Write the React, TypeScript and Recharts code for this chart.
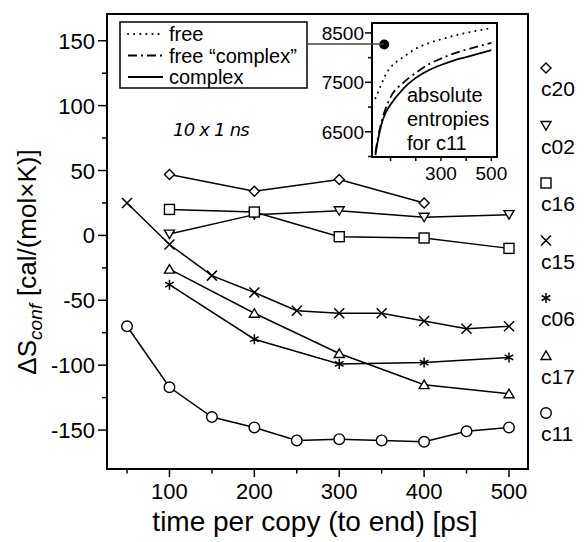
import React from 'react';
import { ComposedChart, Line, XAxis, YAxis, ReferenceArea, ReferenceDot } from 'recharts';

const FONT = '"Liberation Sans", Arial, Helvetica, sans-serif';

// main panel: time per copy [ps] vs ΔS_conf [cal/(mol×K)]
const c20X = [100, 200, 300, 400];
const c20Y = [47, 34, 43, 25];
const c02X = [100, 200, 300, 400, 500];
const c02Y = [1, 16, 19, 14, 16];
const c16X = [100, 200, 300, 400, 500];
const c16Y = [20, 18, -1, -2, -10];
const c15X = [50, 100, 150, 200, 250, 300, 350, 400, 450, 500];
const c15Y = [25, -7, -31, -44, -58, -60, -60, -66, -72, -70];
const c06X = [100, 200, 300, 400, 500];
const c06Y = [-38, -80, -99, -98, -94];
const c17X = [100, 200, 300, 400, 500];
const c17Y = [-26, -60, -91, -115, -122];
const c11X = [50, 100, 150, 200, 250, 300, 350, 400, 450, 500];
const c11Y = [-70, -117, -140, -148, -158, -157, -158, -159, -151, -148];

const xTicks = [50, 100, 150, 200, 250, 300, 350, 400, 450, 500];
const yTicks = [-150, -125, -100, -75, -50, -25, 0, 25, 50, 75, 100, 125, 150];
const X_DOMAIN: [number, number] = [26.4, 522.4];
const Y_DOMAIN: [number, number] = [-180, 170.6];

// inset: absolute entropies for c11
const insetX = [40, 50, 65, 80, 100, 150, 200, 250, 300, 350, 400, 450, 500];
const freeS = [7180, 7300, 7480, 7650, 7800, 8010, 8180, 8290, 8370, 8440, 8500, 8550, 8600];
const freeComplexS = [6080, 6380, 6720, 6960, 7200, 7490, 7690, 7860, 7980, 8080, 8160, 8230, 8300];
const complexS = [6030, 6330, 6670, 6880, 7050, 7370, 7590, 7740, 7850, 7940, 8010, 8080, 8150];
const insetXTicks = [100, 200, 300, 400, 500];
const insetYTicks = [6000, 6500, 7000, 7500, 8000, 8500];
const INSET_Y_DOMAIN: [number, number] = [5990, 8700];
const markX = 75;
const markY = 8266;

type Shape = 'diamond' | 'tridown' | 'square' | 'cross' | 'star' | 'triup' | 'circle';

const series: { name: string; shape: Shape; xs: number[]; ys: number[] }[] = [
    { name: 'c20', shape: 'diamond', xs: c20X, ys: c20Y },
    { name: 'c02', shape: 'tridown', xs: c02X, ys: c02Y },
    { name: 'c16', shape: 'square', xs: c16X, ys: c16Y },
    { name: 'c15', shape: 'cross', xs: c15X, ys: c15Y },
    { name: 'c06', shape: 'star', xs: c06X, ys: c06Y },
    { name: 'c17', shape: 'triup', xs: c17X, ys: c17Y },
    { name: 'c11', shape: 'circle', xs: c11X, ys: c11Y },
];

const insetData = insetX.map((x, i) => ({
    x,
    free: freeS[i],
    freeComplex: freeComplexS[i],
    complex: complexS[i],
}));

const Marker = ({ cx, cy, shape }: { cx: number; cy: number; shape: Shape }) => {
    const st = { fill: '#fff', stroke: '#000', strokeWidth: 1.4 };
    switch (shape) {
        case 'diamond':
            return <path d={`M${cx},${cy - 5}L${cx + 5},${cy}L${cx},${cy + 5}L${cx - 5},${cy}Z`} {...st} />;
        case 'tridown':
            return <path d={`M${cx - 5},${cy - 4}L${cx + 5},${cy - 4}L${cx},${cy + 4.5}Z`} {...st} />;
        case 'triup':
            return <path d={`M${cx - 5},${cy + 4}L${cx + 5},${cy + 4}L${cx},${cy - 4.5}Z`} {...st} />;
        case 'square':
            return <rect x={cx - 5} y={cy - 5} width={10} height={10} {...st} />;
        case 'cross':
            return (
                <path d={`M${cx - 5},${cy - 5}L${cx + 5},${cy + 5}M${cx - 5},${cy + 5}L${cx + 5},${cy - 5}`} stroke="#000" strokeWidth={1.5} fill="none" />
            );
        case 'star':
            return (
                <path
                    d={`M${cx},${cy - 5}L${cx},${cy + 5}M${cx - 4.3},${cy - 2.5}L${cx + 4.3},${cy + 2.5}M${cx - 4.3},${cy + 2.5}L${cx + 4.3},${cy - 2.5}`}
                    stroke="#000"
                    strokeWidth={1.5}
                    fill="none"
                />
            );
        default:
            return <circle cx={cx} cy={cy} r={5.3} {...st} />;
    }
};

// ticks drawn by hand so minor ticks can be shorter and unlabeled
const MainXTick = ({ x, y, payload }: any) => {
    const v = payload.value;
    const major = v % 100 === 0;
    return (
        <g>
            <line x1={x} x2={x} y1={y} y2={y + (major ? 8 : 4.5)} stroke="#000" strokeWidth={1.5} />
            {major && (
                <text x={x} y={y + 30} textAnchor="middle" fontSize={22} fontFamily={FONT} fill="#000">
                    {v}
                </text>
            )}
        </g>
    );
};

const MainYTick = ({ x, y, payload }: any) => {
    const v = payload.value;
    const major = v % 50 === 0;
    return (
        <g>
            <line x1={x} x2={x - (major ? 9 : 5)} y1={y} y2={y} stroke="#000" strokeWidth={1.5} />
            {major && (
                <text x={x - 12} y={y + 8} textAnchor="end" fontSize={22} fontFamily={FONT} fill="#000">
                    {v}
                </text>
            )}
        </g>
    );
};

const InsetXTick = ({ x, y, payload }: any) => {
    const v = payload.value;
    const labelled = v === 300 || v === 500;
    return (
        <g>
            <line x1={x} x2={x} y1={y} y2={y + 4} stroke="#000" strokeWidth={1.5} />
            {labelled && (
                <text x={x} y={y + 23} textAnchor="middle" fontSize={19} fontFamily={FONT} fill="#000">
                    {v}
                </text>
            )}
        </g>
    );
};

const InsetYTick = ({ x, y, payload }: any) => {
    const v = payload.value;
    const major = v % 1000 === 500;
    return (
        <g>
            <line x1={x} x2={x - (major ? 7 : 4)} y1={y} y2={y} stroke="#000" strokeWidth={1.5} />
            {major && (
                <text x={x - 8} y={y + 7} textAnchor="end" fontSize={19} fontFamily={FONT} fill="#000">
                    {v}
                </text>
            )}
        </g>
    );
};

const Inset = () => (
    <div style={{ position: 'absolute', left: 300, top: 15, width: 215, height: 180 }}>
        <ComposedChart width={215} height={180} data={insetData} margin={{ top: 8, right: 18, bottom: 8, left: 10 }}>
            <XAxis
                type="number"
                dataKey="x"
                domain={X_DOMAIN}
                ticks={insetXTicks}
                interval={0}
                allowDataOverflow
                tick={<InsetXTick />}
                tickLine={false}
                tickSize={0}
                tickMargin={0}
                axisLine={{ stroke: '#000', strokeWidth: 2 }}
                height={30}
            />
            <YAxis
                type="number"
                domain={INSET_Y_DOMAIN}
                ticks={insetYTicks}
                interval={0}
                allowDataOverflow
                tick={<InsetYTick />}
                tickLine={false}
                tickSize={0}
                tickMargin={0}
                axisLine={{ stroke: '#000', strokeWidth: 2 }}
                width={62}
            />
            <ReferenceArea
                x1={X_DOMAIN[0]}
                x2={X_DOMAIN[1]}
                y1={INSET_Y_DOMAIN[0]}
                y2={INSET_Y_DOMAIN[1]}
                fill="none"
                stroke="#000"
                strokeWidth={2}
            />
            <Line type="monotone" dataKey="free" stroke="#000" strokeWidth={2} strokeDasharray="0.1 6" strokeLinecap="round" dot={false} isAnimationActive={false} />
            <Line type="monotone" dataKey="freeComplex" stroke="#000" strokeWidth={1.8} strokeDasharray="9 4 2 4" dot={false} isAnimationActive={false} />
            <Line type="monotone" dataKey="complex" stroke="#000" strokeWidth={1.8} dot={false} isAnimationActive={false} />
            <ReferenceDot x={markX} y={markY} r={5} fill="#000" stroke="none" />
        </ComposedChart>
    </div>
);

const Overlay = () => {
    const legendRows = [
        { label: 'free', dash: '0.1 6', width: 2 },
        { label: 'free \u201ccomplex\u201d', dash: '9 4 2 4', width: 1.8 },
        { label: 'complex', dash: undefined, width: 1.8 },
    ];
    return (
        <svg width={584} height={542} style={{ position: 'absolute', left: 0, top: 0, pointerEvents: 'none' }}>
            {/* legend box + connector to inset marker */}
            <rect x={120} y={22} width={187} height={66} fill="#fff" stroke="#000" strokeWidth={1.5} />
            <line x1={307} x2={384} y1={44} y2={44} stroke="#444" strokeWidth={1.5} />
            {legendRows.map((r, i) => (
                <g key={r.label}>
                    <line
                        x1={128}
                        x2={163}
                        y1={34 + i * 21.5}
                        y2={34 + i * 21.5}
                        stroke="#000"
                        strokeWidth={r.width}
                        strokeDasharray={r.dash}
                        strokeLinecap={r.dash === '0.1 6' ? 'round' : 'butt'}
                    />
                    <text x={169} y={41 + i * 21.5} fontSize={20} fontFamily={FONT} fill="#000">
                        {r.label}
                    </text>
                </g>
            ))}

            {/* inset caption */}
            {['absolute', 'entropies', 'for c11'].map((t, i) => (
                <text key={t} x={407} y={102 + i * 24} fontSize={20} fontFamily={FONT} fill="#000">
                    {t}
                </text>
            ))}

            <text x={211} y={136} textAnchor="middle" fontSize={18} letterSpacing={-0.8} fontStyle="italic" fontFamily='"DejaVu Sans", sans-serif' fill="#000">
                10 x 1 ns
            </text>

            {/* series key on the right */}
            {series.map((s, i) => (
                <g key={s.name}>
                    <Marker cx={546} cy={68 + i * 57.5} shape={s.shape} />
                    <text x={541} y={96 + i * 57.5} fontSize={21} fontFamily={FONT} fill="#000">
                        {s.name}
                    </text>
                </g>
            ))}

            {/* axis titles */}
            <text x={315} y={531} textAnchor="middle" fontSize={28} fontFamily={FONT} fill="#000">
                time per copy (to end) [ps]
            </text>
            <text transform="translate(36,262) rotate(-90)" textAnchor="middle" fontSize={26} fontFamily={FONT} fill="#000">
                <tspan>ΔS</tspan>
                <tspan fontSize={19} fontStyle="italic" dy={6}>conf</tspan>
                <tspan dx={8} dy={-6}>[cal/(mol×K)]</tspan>
            </text>
        </svg>
    );
};

export default function App() {
    return (
        <div style={{ position: 'absolute', left: 0, top: 0, width: 584, height: 542, background: '#fff' }}>
            <ComposedChart width={584} height={542} margin={{ top: 14, right: 56, bottom: 33, left: 37 }}>
                <XAxis
                    type="number"
                    dataKey="x"
                    domain={X_DOMAIN}
                    ticks={xTicks}
                    interval={0}
                    allowDataOverflow
                    tick={<MainXTick />}
                    tickLine={false}
                    tickSize={0}
                    tickMargin={0}
                    axisLine={{ stroke: '#000', strokeWidth: 2 }}
                    height={40}
                />
                <YAxis
                    type="number"
                    dataKey="y"
                    domain={Y_DOMAIN}
                    ticks={yTicks}
                    interval={0}
                    allowDataOverflow
                    tick={<MainYTick />}
                    tickLine={false}
                    tickSize={0}
                    tickMargin={0}
                    axisLine={{ stroke: '#000', strokeWidth: 2 }}
                    width={70}
                />
                <ReferenceArea
                    x1={X_DOMAIN[0]}
                    x2={X_DOMAIN[1]}
                    y1={Y_DOMAIN[0]}
                    y2={Y_DOMAIN[1]}
                    fill="none"
                    stroke="#000"
                    strokeWidth={2}
                />
                {series.map(s => (
                    <Line
                        key={s.name}
                        name={s.name}
                        data={s.xs.map((x, i) => ({ x, y: s.ys[i] }))}
                        dataKey="y"
                        type="linear"
                        stroke="#000"
                        strokeWidth={1.5}
                        isAnimationActive={false}
                        dot={(p: any) => <Marker key={`${s.name}-${p.index}`} cx={p.cx} cy={p.cy} shape={s.shape} />}
                    />
                ))}
            </ComposedChart>
            <Inset />
            <Overlay />
        </div>
    );
}
